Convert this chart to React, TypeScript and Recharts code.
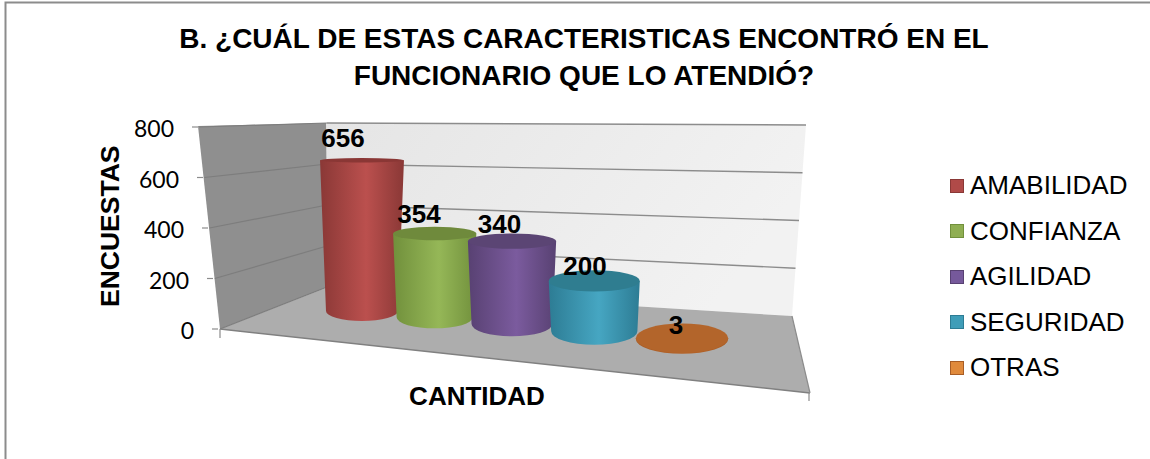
import { BarChart, Bar, XAxis, YAxis, Legend, LabelList, Customized } from 'recharts';

const CATEGORY = 'CANTIDAD';
const SERIES_NAMES = ['AMABILIDAD', 'CONFIANZA', 'AGILIDAD', 'SEGURIDAD', 'OTRAS'];
const SERIES_VALUES = [656, 354, 340, 200, 3];
const Y_TICKS = [0, 200, 400, 600, 800];
const TITLE_LINES = ['B. ¿CUÁL DE ESTAS CARACTERISTICAS ENCONTRÓ EN EL', 'FUNCIONARIO QUE LO ATENDIÓ?'];

const rows = [
  SERIES_NAMES.reduce<Record<string, string | number>>(
    (row, name, i) => ({ ...row, [name]: SERIES_VALUES[i] }),
    { name: CATEGORY }
  ),
];

// legend colour, cylinder edge, cylinder centre, top cap
const PALETTE = [
  { legend: '#b04a48', edge: '#8a3836', mid: '#bb504e', cap: '#8a3735' },
  { legend: '#8fae52', edge: '#71903c', mid: '#95b757', cap: '#6f8a3c' },
  { legend: '#76599b', edge: '#584172', mid: '#7b5b9e', cap: '#5b4574' },
  { legend: '#3f9db8', edge: '#2d7c94', mid: '#46a6c2', cap: '#2f7d90' },
  { legend: '#e08a3c', edge: '#a85d26', mid: '#b5642a', cap: '#b3652b' },
];

const PLOT_LEFT = 199;
const PLOT_WIDTH = 610;
const PLOT_TOP = 127;
const PLOT_BOTTOM = 329;
const FONT = '"Liberation Sans", Arial, sans-serif';

// Excel style perspective: bar slot -> position on the floor
function placeBar(barCenter: number, pxHeight: number) {
  const t = (barCenter - PLOT_LEFT) / (PLOT_WIDTH / 5) - 0.5;
  const d = 1 - 0.0294 * t;
  const cx = (59.95 * t + 362) / d;
  const baseY = (-2.97 * t + 311) / d;
  const h = (pxHeight * 0.91) / d;
  const topY = baseY - h;
  const rBase = 36 / (1 - 0.055 * t);
  const rTop = rBase * (1 + 0.0011 * h);
  const ryBase = rBase * (baseY - 125) * 0.0015;
  const ryTop = rTop * (topY - 125) * 0.0015;
  return { t, cx, baseY, topY, rBase, rTop, ryBase, ryTop };
}

function Cylinder(props: any) {
  const { x, width, height, index, seriesIndex } = props;
  const c = PALETTE[seriesIndex];
  const p = placeBar(x + width / 2, height);
  const id = `cyl-${seriesIndex}-${index}`;
  const side = [
    `M${p.cx - p.rTop},${p.topY}`,
    `L${p.cx - p.rBase},${p.baseY}`,
    `A${p.rBase},${p.ryBase} 0 0 0 ${p.cx + p.rBase},${p.baseY}`,
    `L${p.cx + p.rTop},${p.topY}`,
    'Z',
  ].join(' ');
  return (
    <g>
      <defs>
        <linearGradient id={id} x1="0" x2="1" y1="0" y2="0">
          <stop offset="0%" stopColor={c.edge} />
          <stop offset="55%" stopColor={c.mid} />
          <stop offset="100%" stopColor={c.edge} />
        </linearGradient>
      </defs>
      <path d={side} fill={`url(#${id})`} />
      <ellipse cx={p.cx} cy={p.topY} rx={p.rTop} ry={p.ryTop} fill={c.cap} />
    </g>
  );
}

function ValueLabel(props: any) {
  const { x, width, height, value } = props;
  const p = placeBar(x + width / 2, height);
  return (
    <text
      x={p.cx - 19 + 3.25 * p.t}
      y={p.topY - 22 + 2.2 * p.t}
      textAnchor="middle"
      dominantBaseline="central"
      fontFamily={FONT}
      fontWeight="bold"
      fontSize={26}
      fill="#000"
    >
      {value}
    </text>
  );
}

function SlantedTick(props: any) {
  const { y, payload } = props;
  const shift = ((y - PLOT_TOP) / (PLOT_BOTTOM - PLOT_TOP)) * 20;
  return (
    <g>
      <line x1={192 + shift} x2={198 + shift} y1={y} y2={y} stroke="#8c8c8c" strokeWidth={1.2} />
      <text
        x={174 + shift}
        y={y + 1}
        textAnchor="end"
        dominantBaseline="central"
        fontFamily="Lato, sans-serif"
        fontSize={23}
        fill="#000"
      >
        {payload.value}
      </text>
    </g>
  );
}

// Frame, title and the three grey panels behind the bars
function Backdrop() {
  return (
    <g>
      <path d="M5.5,459 L5.5,2.5 L1150,2.5" fill="none" stroke="#8c8c8c" strokeWidth={2} />
      {TITLE_LINES.map((line, i) => (
        <text
          key={line}
          x={584}
          y={48 + i * 37}
          textAnchor="middle"
          fontFamily={FONT}
          fontWeight="bold"
          fontSize={28}
          fill="#000"
        >
          {line}
        </text>
      ))}
      <defs>
        <linearGradient id="backWall" x1="0" x2="1" y1="0" y2="0.3">
          <stop offset="0%" stopColor="#e5e5e5" />
          <stop offset="100%" stopColor="#f2f2f2" />
        </linearGradient>
      </defs>
      <polygon points="326,123 806,125 792,316 328,287" fill="url(#backWall)" />
      <polygon points="198,126 326,123 328,287 220,329" fill="#8f8f8f" />
      <polygon points="220,329 328,287 792,316 810,393" fill="#adadad" />
      {Y_TICKS.map((v) => {
        const f = (v / 800) * (PLOT_BOTTOM - PLOT_TOP);
        const frontY = PLOT_BOTTOM - f;
        const frontX = 220 - (v / 800) * 21;
        const backLeft = 287 - (v / 800) * 164;
        const backRight = 316 - (v / 800) * 191;
        const rightX = 792 + (v / 800) * 14;
        return (
          <g key={v}>
            <line x1={frontX} y1={frontY} x2={327} y2={backLeft} stroke="#7d7d7d" strokeWidth={1.2} />
            {v > 0 && <line x1={327} y1={backLeft} x2={rightX} y2={backRight} stroke="#8c8c8c" strokeWidth={1.4} />}
          </g>
        );
      })}
      <line x1={220} y1={329} x2={810} y2={393} stroke="#808080" strokeWidth={1.5} />
      <line x1={792} y1={316} x2={810} y2={393} stroke="#8c8c8c" strokeWidth={1.2} />
      <line x1={220} y1={329} x2={220} y2={338} stroke="#8c8c8c" strokeWidth={1.2} />
      <line x1={809} y1={393} x2={809} y2={401} stroke="#8c8c8c" strokeWidth={1.2} />
    </g>
  );
}

function LegendList({ payload }: any) {
  return (
    <div>
      {(payload || []).map((item: any, i: number) => (
        <div
          key={item.value}
          style={{ display: 'flex', alignItems: 'center', height: 45.5, fontFamily: FONT, fontSize: 26, color: '#000' }}
        >
          <span
            style={{
              width: 12,
              height: 12,
              marginRight: 6,
              background: item.color,
              border: `1.5px solid ${PALETTE[i].edge}`,
            }}
          />
          {item.value}
        </div>
      ))}
    </div>
  );
}

export default function App() {
  return (
    <div style={{ position: 'absolute', left: 0, top: 0, width: 1150, height: 459, background: '#fff' }}>
      <BarChart
        width={1150}
        height={459}
        data={rows}
        barGap={0}
        barCategoryGap={0}
        margin={{ top: PLOT_TOP, right: 1150 - PLOT_LEFT - PLOT_WIDTH, bottom: 80, left: 0 }}
      >
        <Customized component={Backdrop} />
        <XAxis
          dataKey="name"
          tick={false}
          axisLine={false}
          tickLine={false}
          height={50}
          label={{
            value: CATEGORY,
            position: 'insideTop',
            dx: -27,
            dy: 53,
            style: { fontFamily: FONT, fontWeight: 'bold', fontSize: 26, fill: '#000' },
          }}
        />
        <YAxis
          width={PLOT_LEFT}
          domain={[0, 800]}
          ticks={Y_TICKS}
          axisLine={false}
          tickLine={false}
          interval={0}
          tick={<SlantedTick />}
          label={{
            value: 'ENCUESTAS',
            angle: -90,
            position: 'insideLeft',
            dx: 105,
            dy: 79,
            style: { fontFamily: FONT, fontWeight: 'bold', fontSize: 26.5, fill: '#000' },
          }}
        />
        <Legend
          layout="vertical"
          align="center"
          verticalAlign="middle"
          itemSorter={null}
          wrapperStyle={{ left: 950, top: 163, width: 200 }}
          content={<LegendList />}
        />
        {SERIES_NAMES.map((name, i) => (
          <Bar
            key={name}
            dataKey={name}
            name={name}
            fill={PALETTE[i].legend}
            isAnimationActive={false}
            shape={(props: any) => <Cylinder {...props} seriesIndex={i} />}
          >
            <LabelList dataKey={name} content={<ValueLabel />} />
          </Bar>
        ))}
      </BarChart>
    </div>
  );
}
